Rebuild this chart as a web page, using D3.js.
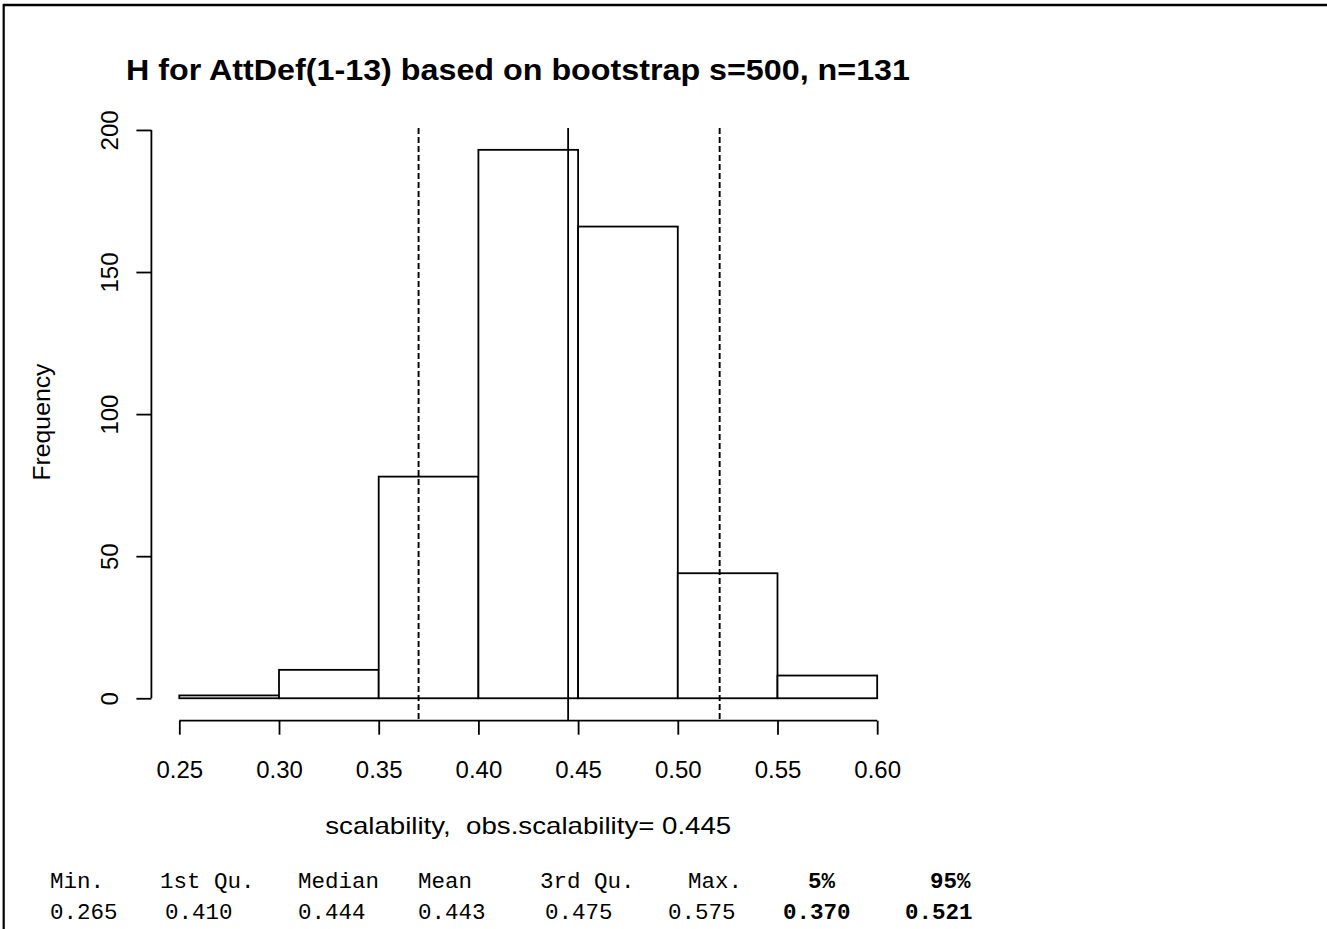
<!DOCTYPE html>
<html>
<head>
<meta charset="utf-8">
<script src="https://cdn.jsdelivr.net/npm/d3@7"></script>
<style>
  html, body { margin: 0; padding: 0; background: #ffffff; }
  svg { display: block; }
</style>
</head>
<body>
<svg id="chart" width="1327" height="929"></svg>
<script>
// Bootstrap distribution of the scalability coefficient H
const binEdges = [0.25, 0.30, 0.35, 0.40, 0.45, 0.50, 0.55, 0.60];
const binCounts = [1, 10, 78, 193, 166, 44, 8];
const xTicks = [0.25, 0.30, 0.35, 0.40, 0.45, 0.50, 0.55, 0.60];
const yTicks = [0, 50, 100, 150, 200];
const observedH = 0.445;
const ciBounds = [0.370, 0.521];

const titleText = "H for AttDef(1-13) based on bootstrap s=500, n=131";
const xLabelText = "scalability,  obs.scalability= " + observedH.toFixed(3);
const yLabelText = "Frequency";

const summaryLabels = ["Min.", "1st Qu.", "Median", "Mean", "3rd Qu.", "Max.", "5%", "95%"];
const summaryValues = ["0.265", "0.410", "0.444", "0.443", "0.475", "0.575", "0.370", "0.521"];
const summaryBold = [false, false, false, false, false, false, true, true];

// layout
const sansFont = "'Liberation Sans', Arial, Helvetica, sans-serif";
const monoFont = "'Liberation Mono', 'Courier New', monospace";
const headerX = [50, 160, 298, 418, 540, 688, 808, 930];
const valueX = [50, 165, 298, 418, 545, 668, 783, 905];
const lineW = 1.8;

const svg = d3.select("#chart");

// page frame (top and left rules)
svg.append("line").attr("x1", 3).attr("x2", 1327).attr("y1", 5).attr("y2", 5)
  .attr("stroke", "#000").attr("stroke-width", 2.5);
svg.append("line").attr("x1", 3.7).attr("x2", 3.7).attr("y1", 4).attr("y2", 929)
  .attr("stroke", "#000").attr("stroke-width", 2.2);

// plot region in data units (range extended 4% as in base graphics)
const xPad = (binEdges[binEdges.length - 1] - binEdges[0]) * 0.04;
const yMax = d3.max(binCounts);
const yPad = yMax * 0.04;

const x = d3.scaleLinear()
  .domain([binEdges[0] - xPad, binEdges[binEdges.length - 1] + xPad])
  .range([151.4, 905.1]);
const y = d3.scaleLinear()
  .domain([-yPad, yMax + yPad])
  .range([720.2, 127.9]);

const bins = binCounts.map((c, i) => ({ x0: binEdges[i], x1: binEdges[i + 1], count: c }));

// histogram bars
svg.append("g").selectAll("rect").data(bins).join("rect")
  .attr("x", d => x(d.x0))
  .attr("y", d => y(d.count))
  .attr("width", d => x(d.x1) - x(d.x0))
  .attr("height", d => y(0) - y(d.count))
  .attr("fill", "#ffffff")
  .attr("stroke", "#000")
  .attr("stroke-width", lineW);

// reference lines: observed H (solid) and percentile bounds (dashed)
const [yTop, yBottom] = [y(yMax + yPad), y(-yPad)];
svg.append("line")
  .attr("x1", x(observedH)).attr("x2", x(observedH))
  .attr("y1", yTop).attr("y2", yBottom)
  .attr("stroke", "#000").attr("stroke-width", lineW);
svg.append("g").selectAll("line").data(ciBounds).join("line")
  .attr("x1", d => x(d)).attr("x2", d => x(d))
  .attr("y1", yTop).attr("y2", yBottom)
  .attr("stroke", "#000").attr("stroke-width", 1.9)
  .attr("stroke-dasharray", "6,3");

// x axis
const xAxisY = yBottom + 0.5;
const xAxis = svg.append("g").attr("transform", `translate(0,${xAxisY})`)
  .call(d3.axisBottom(x).tickValues(xTicks).tickSize(14).tickSizeOuter(0)
    .tickFormat(d3.format(".2f")));
xAxis.select(".domain").remove();
xAxis.append("line")
  .attr("x1", x(xTicks[0])).attr("x2", x(xTicks[xTicks.length - 1]))
  .attr("stroke", "#000").attr("stroke-width", lineW);
xAxis.selectAll(".tick line").attr("stroke", "#000").attr("stroke-width", lineW);
xAxis.selectAll(".tick text")
  .attr("y", 57).attr("dy", null)
  .attr("fill", "#000")
  .style("font-family", sansFont).style("font-size", "24px");

// y axis
const yAxisX = x.range()[0];
const yAxis = svg.append("g").attr("transform", `translate(${yAxisX},0)`)
  .call(d3.axisLeft(y).tickValues(yTicks).tickSize(15).tickSizeOuter(0));
yAxis.select(".domain").remove();
yAxis.append("line")
  .attr("y1", y(yTicks[0])).attr("y2", y(yTicks[yTicks.length - 1]))
  .attr("stroke", "#000").attr("stroke-width", lineW);
yAxis.selectAll(".tick line").attr("stroke", "#000").attr("stroke-width", lineW);
yAxis.selectAll(".tick text")
  .attr("x", null).attr("dy", null)
  .attr("text-anchor", "middle")
  .attr("transform", "translate(-33,0) rotate(-90)")
  .attr("fill", "#000")
  .style("font-family", sansFont).style("font-size", "24px");

// title and axis labels
const plotCenterX = (x.range()[0] + x.range()[1]) / 2;
const plotCenterY = (yTop + yBottom) / 2;
svg.append("text")
  .attr("x", 518).attr("y", 80)
  .attr("text-anchor", "middle")
  .attr("textLength", 784).attr("lengthAdjust", "spacingAndGlyphs")
  .style("font-family", sansFont).style("font-size", "30px").style("font-weight", "bold")
  .text(titleText);
svg.append("text")
  .attr("x", plotCenterX).attr("y", 834)
  .attr("text-anchor", "middle")
  .attr("textLength", 406).attr("lengthAdjust", "spacingAndGlyphs")
  .style("font-family", sansFont).style("font-size", "24px")
  .style("white-space", "pre")
  .text(xLabelText);
svg.append("text")
  .attr("transform", `translate(50,${plotCenterY - 2}) rotate(-90)`)
  .attr("text-anchor", "middle")
  .attr("textLength", 117).attr("lengthAdjust", "spacingAndGlyphs")
  .style("font-family", sansFont).style("font-size", "23px")
  .text(yLabelText);

// summary table below the plot
const table = svg.append("g").style("font-family", monoFont).style("font-size", "22.5px");
table.selectAll("text.hdr").data(summaryLabels).join("text")
  .attr("class", "hdr")
  .attr("x", (d, i) => headerX[i]).attr("y", 888)
  .style("font-weight", (d, i) => summaryBold[i] ? "bold" : "normal")
  .text(d => d);
table.selectAll("text.val").data(summaryValues).join("text")
  .attr("class", "val")
  .attr("x", (d, i) => valueX[i]).attr("y", 919)
  .style("font-weight", (d, i) => summaryBold[i] ? "bold" : "normal")
  .text(d => d);
</script>
</body>
</html>
